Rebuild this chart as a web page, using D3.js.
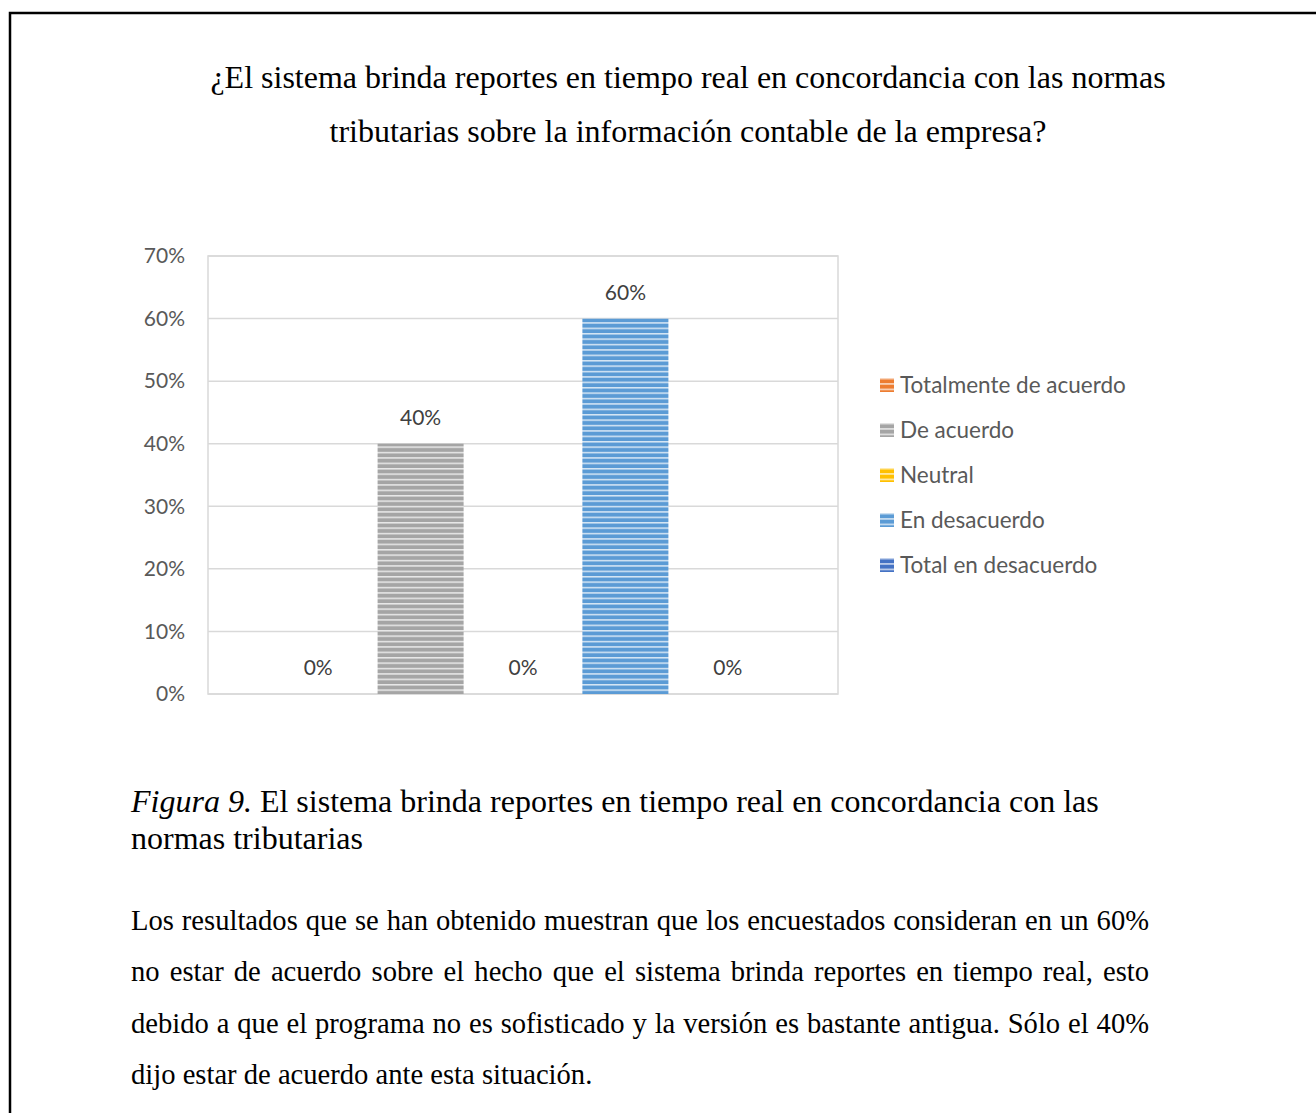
<!DOCTYPE html>
<html>
<head>
<meta charset="utf-8">
<script src="https://cdn.jsdelivr.net/npm/d3@7"></script>
<style>
  body { margin: 0; background: #fff; }
  .para { position: absolute; left: 131px; width: 1018px; font-family: "Liberation Serif", "Times New Roman", serif;
          font-size: 28.6px; line-height: 34px; color: #000; text-align: justify; text-align-last: justify; white-space: nowrap; }
  .para.last { text-align-last: left; }
</style>
</head>
<body>
<script>
// data
const series = ["Totalmente de acuerdo", "De acuerdo", "Neutral", "En desacuerdo", "Total en desacuerdo"];
const values = [0, 0.40, 0, 0.60, 0];
const colors = ["#ED7D31", "#A5A5A5", "#FFC000", "#5B9BD5", "#4472C4"];
const yTicks = [0, 0.1, 0.2, 0.3, 0.4, 0.5, 0.6, 0.7];
const titleLines = ["¿El sistema brinda reportes en tiempo real en concordancia con las normas",
                    "tributarias sobre la información contable de la empresa?"];
const captionLines = ["El sistema brinda reportes en tiempo real en concordancia con las", "normas tributarias"];
const paraLines = [
  "Los resultados que se han obtenido muestran que los encuestados consideran en un 60%",
  "no estar de acuerdo sobre el hecho que el sistema brinda reportes en tiempo real, esto",
  "debido a que el programa no es sofisticado y la versión es bastante antigua. Sólo el 40%",
  "dijo estar de acuerdo ante esta situación."
];

const width = 1316, height = 1113;
const svg = d3.select("body").append("svg")
  .attr("width", width).attr("height", height)
  .style("position", "absolute").style("left", 0).style("top", 0);

// page frame
svg.append("rect")
  .attr("x", 10).attr("y", 13).attr("width", 1400).attr("height", 1200)
  .attr("fill", "none").attr("stroke", "#000").attr("stroke-width", 2.5);

// title
svg.append("g").selectAll("text").data(titleLines).enter().append("text")
  .attr("x", 688).attr("y", (d, i) => 88 + i * 54)
  .attr("text-anchor", "middle")
  .style("font-family", "'Liberation Serif', 'Times New Roman', serif")
  .style("font-size", "32px").attr("fill", "#000")
  .text(d => d);

// stripe patterns
const defs = svg.append("defs");
colors.forEach((c, i) => {
  const p = defs.append("pattern").attr("id", "stripe" + i)
    .attr("patternUnits", "userSpaceOnUse").attr("width", 10).attr("height", 5.4);
  p.append("rect").attr("width", 10).attr("height", 5.4).attr("fill", c);
  p.append("rect").attr("y", 3.6).attr("width", 10).attr("height", 1.5).attr("fill", "#fff").attr("opacity", 0.75);
});

const plot = { left: 208, right: 838, top: 256, bottom: 694 };

const y = d3.scaleLinear().domain([0, 0.7]).range([plot.bottom, plot.top]);
const x = d3.scaleBand().domain(series)
  .range([plot.left + 59, plot.right - 59])
  .paddingInner(0.16).paddingOuter(0.08);

const g = svg.append("g");

// gridlines
g.selectAll(".grid").data(yTicks).enter().append("line")
  .attr("x1", plot.left).attr("x2", plot.right)
  .attr("y1", d => y(d)).attr("y2", d => y(d))
  .attr("stroke", "#d9d9d9").attr("stroke-width", 1.5);
g.append("rect")
  .attr("x", plot.left).attr("y", plot.top)
  .attr("width", plot.right - plot.left).attr("height", plot.bottom - plot.top)
  .attr("fill", "none").attr("stroke", "#d9d9d9").attr("stroke-width", 1.5);

// y axis labels
const yAxis = d3.axisLeft(y).tickValues(yTicks).tickFormat(d3.format(".0%")).tickSize(0).tickPadding(0);
const ya = svg.append("g").attr("transform", `translate(185,0)`).call(yAxis);
ya.select(".domain").remove();
ya.selectAll("text")
  .style("font-family", "Lato, 'Open Sans', sans-serif").style("font-size", "21px")
  .attr("fill", "#595959");

// bars
g.selectAll(".bar").data(values).enter().append("rect")
  .attr("x", (d, i) => x(series[i]))
  .attr("width", x.bandwidth())
  .attr("y", d => y(d))
  .attr("height", d => y(0) - y(d))
  .attr("fill", (d, i) => `url(#stripe${i})`);

// data labels
g.selectAll(".lbl").data(values).enter().append("text")
  .attr("x", (d, i) => x(series[i]) + x.bandwidth() / 2)
  .attr("y", d => y(d) - 26)
  .attr("dy", "0.35em")
  .attr("text-anchor", "middle")
  .style("font-family", "Lato, 'Open Sans', sans-serif").style("font-size", "21px")
  .attr("fill", "#404040")
  .text(d => d3.format(".0%")(d));

// legend
const leg = svg.append("g").selectAll("g").data(series).enter().append("g")
  .attr("transform", (d, i) => `translate(880,${385 + i * 45})`);
leg.append("rect").attr("x", 0).attr("y", -7).attr("width", 14).attr("height", 14)
  .attr("fill", (d, i) => `url(#stripe${i})`);
leg.append("text").attr("x", 20).attr("dy", "0.35em")
  .style("font-family", "Lato, 'Open Sans', sans-serif").style("font-size", "22.5px")
  .attr("fill", "#595959")
  .text(d => d);

// caption
const cap = svg.append("g");
const c1 = cap.append("text").attr("x", 131).attr("y", 812)
  .style("font-family", "'Liberation Serif', 'Times New Roman', serif").style("font-size", "32px");
c1.append("tspan").style("font-style", "italic").text("Figura 9.");
c1.append("tspan").text(" " + captionLines[0]);
cap.append("text").attr("x", 131).attr("y", 849)
  .style("font-family", "'Liberation Serif', 'Times New Roman', serif").style("font-size", "32px")
  .text(captionLines[1]);

// paragraph (justified lines)
d3.select("body").selectAll(".para").data(paraLines).enter().append("div")
  .attr("class", (d, i) => i === paraLines.length - 1 ? "para last" : "para")
  .style("top", (d, i) => (904 + i * 51.3) + "px")
  .text(d => d);
</script>
</body>
</html>
